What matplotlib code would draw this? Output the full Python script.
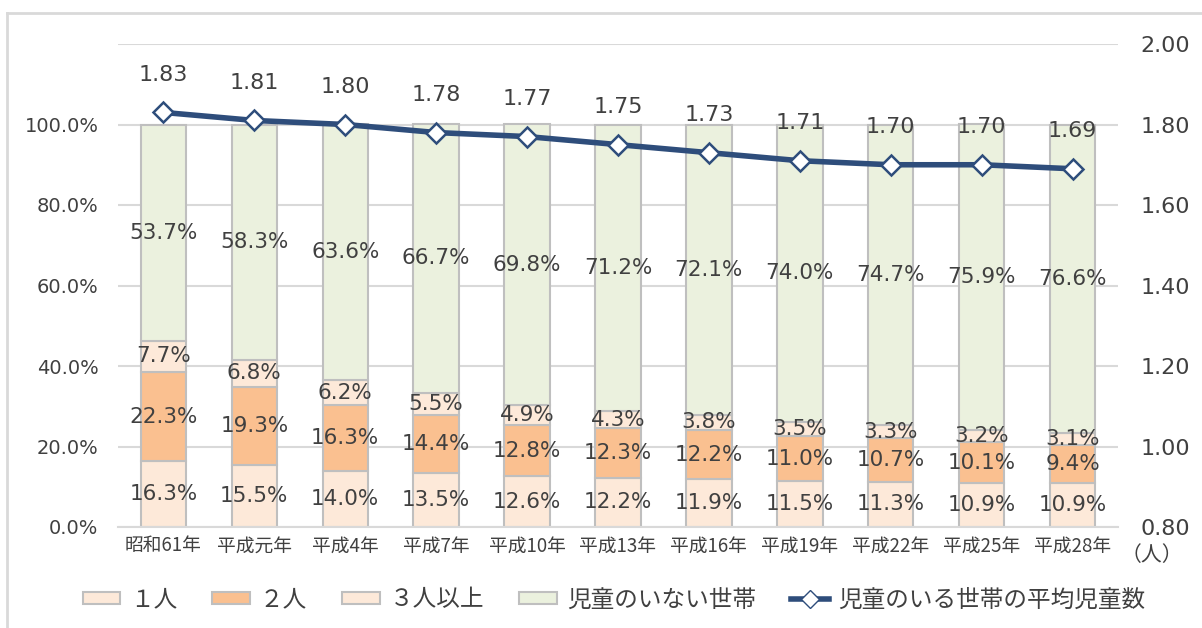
import numpy as np
import matplotlib
matplotlib.use('Agg')
import matplotlib.pyplot as plt
from matplotlib.patches import Patch
from matplotlib.lines import Line2D

plt.rcParams['font.family'] = ['Noto Sans CJK JP', 'DejaVu Sans']

# データ
years = ['昭和61年', '平成元年', '平成4年', '平成7年', '平成10年', '平成13年',
         '平成16年', '平成19年', '平成22年', '平成25年', '平成28年']
one = [16.3, 15.5, 14.0, 13.5, 12.6, 12.2, 11.9, 11.5, 11.3, 10.9, 10.9]
two = [22.3, 19.3, 16.3, 14.4, 12.8, 12.3, 12.2, 11.0, 10.7, 10.1, 9.4]
three = [7.7, 6.8, 6.2, 5.5, 4.9, 4.3, 3.8, 3.5, 3.3, 3.2, 3.1]
none = [53.7, 58.3, 63.6, 66.7, 69.8, 71.2, 72.1, 74.0, 74.7, 75.9, 76.6]
avg = [1.83, 1.81, 1.80, 1.78, 1.77, 1.75, 1.73, 1.71, 1.70, 1.70, 1.69]

labels = ['１人', '２人', '３人以上', '児童のいない世帯']
colors = ['#fde9d9', '#fac090', '#fde9d9', '#ebf1de']
txt = '#404040'
edge = '#bfbfbf'
num = ['DejaVu Sans']

fig = plt.figure(figsize=(12.02, 6.28), dpi=100)
ax = fig.add_axes([118 / 1202, 1 - 527 / 628, 1000 / 1202, 483 / 628])
ax2 = ax.twinx()

x = np.arange(len(years))
bottom = np.zeros(len(years))
for vals, lab, c in zip([one, two, three, none], labels, colors):
    v = np.array(vals) / 100
    ax.bar(x, v, 0.5, bottom=bottom, color=c, edgecolor=edge, linewidth=1.5, zorder=2)
    for xi, b, h, s in zip(x, bottom, v, vals):
        ax.text(xi, b + h / 2, f'{s:.1f}%', ha='center', va='center',
                fontsize=15.5, color=txt, family=num, zorder=5)
    bottom += v

ax.set_xlim(-0.5, len(years) - 0.5)
ax.set_ylim(0, 1.196)
ax.set_yticks(np.arange(0, 1.21, 0.2))
ax.set_yticklabels([f'{t * 100:.1f}%' for t in np.arange(0, 1.01, 0.2)] + [''], family=num)
ax.set_xticks(x)
ax.set_xticklabels(years)
ax.tick_params(axis='y', length=0, labelsize=14, labelcolor=txt, pad=14)
ax.tick_params(axis='x', length=0, labelsize=13.5, labelcolor=txt, pad=6)
ax.grid(axis='y', color='#d9d9d9', linewidth=1.5, zorder=0)
ax.set_axisbelow(True)
for sp in ['top', 'left', 'right']:
    ax.spines[sp].set_visible(False)
ax.spines['bottom'].set_color('#d9d9d9')
ax.spines['bottom'].set_linewidth(1.5)

ax2.plot(x, avg, color='#2e4d7b', linewidth=4, marker='D', markersize=10,
         markerfacecolor='white', markeredgecolor='#2e4d7b', markeredgewidth=1.8, zorder=6)
for xi, a in zip(x, avg):
    ax2.annotate(f'{a:.2f}', (xi, a), xytext=(0, 27), textcoords='offset points',
                 ha='center', va='center', fontsize=16, color=txt, family=num)
ax2.set_ylim(0.8, 2.0)
ax2.set_yticks(np.arange(0.8, 2.01, 0.2))
ax2.set_yticklabels([f'{t:.2f}' for t in np.arange(0.8, 2.01, 0.2)], family=num)
ax2.tick_params(axis='y', length=0, labelsize=16, labelcolor=txt, pad=16)
for sp in ['top', 'left', 'right', 'bottom']:
    ax2.spines[sp].set_visible(False)

fig.text(1152 / 1202, 1 - 555 / 628, '（人）', ha='center', va='center', fontsize=15, color=txt)

handles = [Patch(facecolor=c, edgecolor=edge, linewidth=1.5) for c in colors]
handles.append(Line2D([], [], color='#2e4d7b', linewidth=4, marker='D', markersize=9,
                      markerfacecolor='white', markeredgecolor='#2e4d7b'))
fig.legend(handles, labels + ['児童のいる世帯の平均児童数'], loc='center',
           bbox_to_anchor=(614 / 1202, 1 - 600 / 628), ncol=5, frameon=False,
           fontsize=17, labelcolor=txt, handlelength=1.6, handleheight=0.45,
           columnspacing=1.5, handletextpad=0.4)

# 外枠
fig.add_artist(Line2D([7 / 1202, 7 / 1202], [0, 1 - 13 / 628], color='#d9d9d9', linewidth=2))
fig.add_artist(Line2D([7 / 1202, 1], [1 - 13 / 628, 1 - 13 / 628], color='#d9d9d9', linewidth=2))

fig.savefig('out.png', dpi=100)
